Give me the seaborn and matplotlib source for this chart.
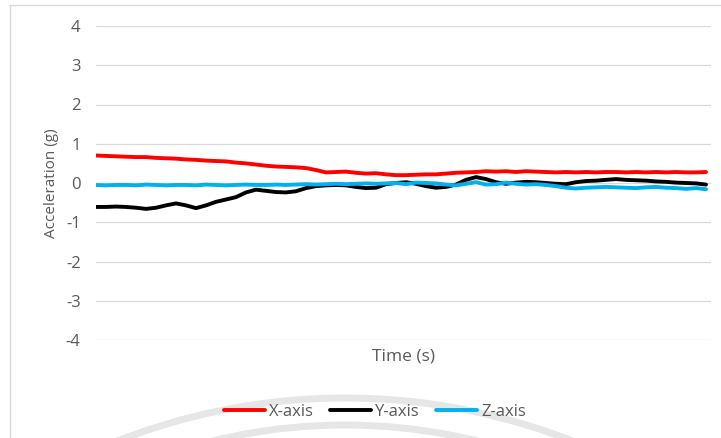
import numpy as np
import pandas as pd
import matplotlib
matplotlib.use("Agg")
import matplotlib.pyplot as plt
from matplotlib.patches import Arc
from matplotlib.lines import Line2D
import seaborn as sns

# Accelerometer readings (g), one sample per step
x_axis = [0.70, 0.69, 0.68, 0.67, 0.66, 0.66, 0.64, 0.63, 0.62, 0.60,
          0.59, 0.57, 0.56, 0.55, 0.52, 0.50, 0.47, 0.44, 0.42, 0.41,
          0.40, 0.38, 0.33, 0.27, 0.28, 0.29, 0.26, 0.24, 0.25, 0.22,
          0.20, 0.20, 0.21, 0.22, 0.22, 0.24, 0.26, 0.27, 0.28, 0.30,
          0.29, 0.30, 0.28, 0.30, 0.29, 0.28, 0.27, 0.28, 0.27, 0.28,
          0.27, 0.28, 0.28, 0.27, 0.28, 0.27, 0.28, 0.27, 0.28, 0.27,
          0.27, 0.28]
y_axis = [-0.61, -0.61, -0.60, -0.61, -0.63, -0.66, -0.63, -0.57, -0.52, -0.57,
          -0.64, -0.57, -0.48, -0.42, -0.36, -0.24, -0.17, -0.20, -0.23, -0.24,
          -0.21, -0.13, -0.08, -0.06, -0.05, -0.06, -0.10, -0.13, -0.12, -0.03,
          0.00, 0.02, -0.02, -0.08, -0.12, -0.10, -0.04, 0.08, 0.15, 0.10,
          0.02, -0.02, 0.01, 0.03, 0.02, 0.00, -0.02, -0.03, 0.02, 0.05,
          0.06, 0.08, 0.10, 0.08, 0.07, 0.06, 0.04, 0.03, 0.01, 0.00,
          -0.01, -0.04]
z_axis = [-0.05, -0.06, -0.05, -0.05, -0.06, -0.04, -0.05, -0.06, -0.05, -0.05,
          -0.06, -0.04, -0.05, -0.06, -0.05, -0.04, -0.05, -0.05, -0.04, -0.05,
          -0.04, -0.03, -0.04, -0.03, -0.02, -0.03, -0.02, -0.01, -0.02, -0.01,
          0.00, -0.03, 0.01, 0.00, -0.01, -0.04, -0.06, -0.02, 0.02, -0.04,
          -0.03, 0.01, -0.02, -0.04, -0.03, -0.05, -0.08, -0.12, -0.14, -0.12,
          -0.11, -0.10, -0.11, -0.12, -0.13, -0.11, -0.10, -0.12, -0.13, -0.15,
          -0.13, -0.16]
series_names = ["X-axis", "Y-axis", "Z-axis"]
series_colors = ["#FF0000", "#000000", "#00B0F0"]
y_ticks = [-4, -3, -2, -1, 0, 1, 2, 3, 4]

n = len(x_axis)
df = pd.DataFrame({
    "t": np.tile(np.arange(n), 3),
    "g": x_axis + y_axis + z_axis,
    "axis": np.repeat(series_names, n),
})

sns.set_style("white")
plt.rcParams["font.family"] = ["Open Sans", "DejaVu Sans"]

W, H = 721, 438
fig = plt.figure(figsize=(W / 100, H / 100), dpi=100)
fig.patch.set_facecolor("white")

# faint decorative arcs behind the legend
for cy, r in [(1023, 625), (985, 560)]:
    arc = Arc((345 / W, (H - cy) / H), 2 * r / W, 2 * r / H,
              theta1=0, theta2=180, transform=fig.transFigure,
              color="#e6e6e6", lw=5, zorder=0)
    fig.add_artist(arc)

# chart-area border (top and left edges)
fig.add_artist(Line2D([10 / W, 1.0], [1 - 5 / H, 1 - 5 / H],
                      transform=fig.transFigure, color="#d9d9d9", lw=1))
fig.add_artist(Line2D([10 / W, 10 / W], [0, 1 - 5 / H],
                      transform=fig.transFigure, color="#d9d9d9", lw=1))

ax = fig.add_axes([96 / W, 1 - 340 / H, (711 - 96) / W, (340 - 26) / H])
ax.set_facecolor("none")

sns.lineplot(data=df, x="t", y="g", hue="axis", palette=series_colors,
             hue_order=series_names, linewidth=2.8, ax=ax, legend=False)

ax.set_ylim(-4, 4)
ax.set_xlim(0, n - 0.5)
ax.set_yticks(y_ticks)
ax.set_yticklabels([str(v) for v in y_ticks])
ax.set_xticks([])
ax.grid(axis="y", color="#d9d9d9", linewidth=0.9)
ax.set_axisbelow(True)
for s in ax.spines.values():
    s.set_visible(False)
ax.tick_params(axis="y", length=0, pad=11, labelsize=12, labelcolor="#595959")
ax.set_ylabel("Acceleration (g)", fontsize=11, color="#595959", labelpad=5)
ax.set_xlabel("Time (s)", fontsize=12.5, color="#595959", labelpad=6)

handles = [Line2D([], [], color=c, lw=2.8) for c in series_colors]
fig.legend(handles, series_names, loc="center", bbox_to_anchor=(375 / W, 1 - 412 / H),
           ncol=3, frameon=False, fontsize=12, labelcolor="#595959",
           handlelength=2.45, handletextpad=0.24, columnspacing=1.0)

fig.savefig("out.png", dpi=100, facecolor="white")
